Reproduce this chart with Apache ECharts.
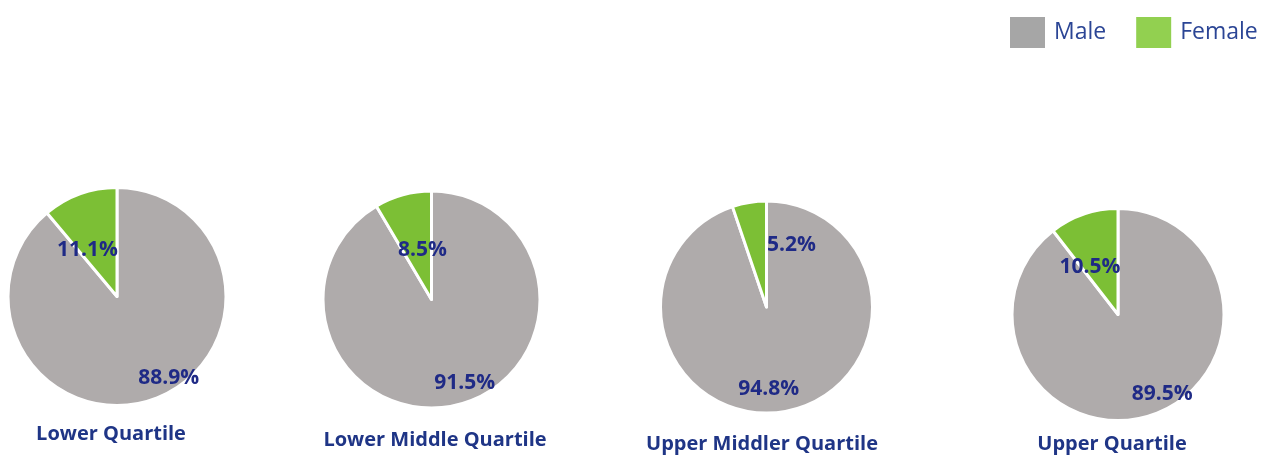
<!DOCTYPE html>
<html>
<head>
<meta charset="utf-8">
<script src="https://cdn.jsdelivr.net/npm/echarts@6/dist/echarts.min.js"></script>
<style>
html,body{margin:0;padding:0;background:#fff;}
#chart{width:1267px;height:455px;}
</style>
</head>
<body>
<div id="chart"></div>
<script>
// ---- data ----
const categories = ['Lower Quartile', 'Lower Middle Quartile', 'Upper Middler Quartile', 'Upper Quartile'];
const seriesNames = ['Male', 'Female'];
const maleValues = [88.9, 91.5, 94.8, 89.5];
const femaleValues = [11.1, 8.5, 5.2, 10.5];

// ---- layout (positions / sizes) ----
const pieLayout = [
  { center: [117, 296.5], radius: 109, title: [111, 434], maleOff: [32, 27], femaleOff: [-10, 8] },
  { center: [431.5, 299.5], radius: 108.5, title: [435, 440], maleOff: [18, 28], femaleOff: [6, 6] },
  { center: [766.5, 307], radius: 106, title: [762, 444], maleOff: [-7, 27], femaleOff: [34, -7] },
  { center: [1118, 314.5], radius: 106, title: [1112, 444], maleOff: [26, 27], femaleOff: [-10, 5] }
];

const MALE_COLOR = '#AFABAB';
const FEMALE_COLOR = '#7CBF35';
const LABEL_COLOR = '#1F2A86';
const TITLE_COLOR = '#1F3586';

const chart = echarts.init(document.getElementById('chart'), null, { renderer: 'canvas' });

const series = categories.map((cat, i) => {
  const L = pieLayout[i];
  return {
    type: 'pie',
    name: cat,
    center: L.center,
    radius: [0, L.radius],
    startAngle: 90,
    clockwise: true,
    silent: true,
    animation: false,
    itemStyle: { borderColor: '#ffffff', borderWidth: 3 },
    label: {
      show: true,
      position: 'inside',
      formatter: p => p.value.toFixed(1) + '%',
      color: LABEL_COLOR,
      fontFamily: 'Open Sans',
      fontWeight: 'bold',
      fontSize: 21
    },
    labelLine: { show: false },
    data: [
      { name: seriesNames[0], value: maleValues[i], itemStyle: { color: MALE_COLOR }, label: { offset: L.maleOff } },
      { name: seriesNames[1], value: femaleValues[i], itemStyle: { color: FEMALE_COLOR }, label: { offset: L.femaleOff } }
    ]
  };
});

const titles = categories.map((cat, i) => ({
  text: cat,
  left: pieLayout[i].title[0],
  top: pieLayout[i].title[1] - 12,
  textAlign: 'center',
  padding: 0,
  textStyle: {
    color: TITLE_COLOR,
    fontFamily: 'Open Sans',
    fontWeight: 'bold',
    fontSize: 20,
    lineHeight: 24
  }
}));

chart.setOption({
  backgroundColor: '#ffffff',
  animation: false,
  title: titles,
  legend: {
    left: 1008,
    top: 15,
    orient: 'horizontal',
    itemWidth: 37,
    itemHeight: 33,
    itemGap: 28,
    icon: 'rect',
    selectedMode: false,
    padding: 0,
    textStyle: { color: '#2B4595', fontFamily: 'Open Sans', fontSize: 23, padding: [9, 0, 0, 3] },
    data: [
      { name: seriesNames[0], itemStyle: { color: '#A6A6A6' } },
      { name: seriesNames[1], itemStyle: { color: '#92D050' } }
    ]
  },
  series: series
});
</script>
</body>
</html>
